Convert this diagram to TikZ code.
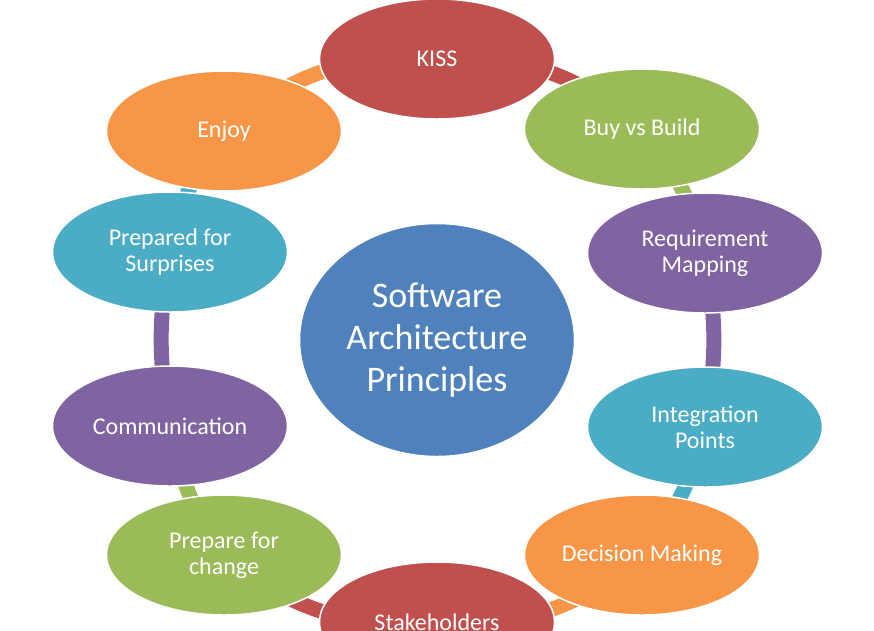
\documentclass[tikz,border=0pt]{standalone}
\usepackage{fontspec}
\setmainfont{Carlito}
\usetikzlibrary{shapes.geometric,backgrounds}
\definecolor{offred}{HTML}{C0504D}
\definecolor{offgreen}{HTML}{9BBB59}
\definecolor{offpurple}{HTML}{8064A2}
\definecolor{offaqua}{HTML}{4BACC6}
\definecolor{offorange}{HTML}{F79646}
\definecolor{offblue}{HTML}{4F81BD}
\tikzset{
  principle/.style={ellipse, draw=white, line width=1.5pt, fill=#1, text=white,
    minimum width=235pt, minimum height=120pt, inner sep=0pt, align=center,
    font=\fontsize{24}{26}\selectfont},
  ringband/.style={draw=#1, line width=15pt}
}
\begin{document}
\begin{tikzpicture}[x=1pt, y=1pt]
    \useasboundingbox (0,0) rectangle (874,-630);
    \clip (0,0) rectangle (874,-630);
    % centre
    \node[ellipse, draw=white, line width=1.5pt, fill=offblue, text=white, minimum width=275pt,
      minimum height=233pt, inner sep=0pt, align=center, font=\fontsize{36}{42}\selectfont]
      (core) at (437,-340) {Software\\Architecture\\Principles};
    % ring of principles
    \node[principle=offred]    (kiss)     at (437,-59)  {KISS};
    \node[principle=offgreen]  (buy)      at (642,-129) {Buy vs Build};
    \node[principle=offpurple] (req)      at (705,-253) {Requirement\\Mapping};
    \node[principle=offaqua]   (integ)    at (705,-427) {Integration\\Points};
    \node[principle=offorange] (decision) at (642,-555) {Decision Making};
    \node[principle=offred]    (stake)    at (437,-622) {Stakeholders};
    \node[principle=offgreen]  (change)   at (224,-555) {Prepare for\\change};
    \node[principle=offpurple] (comm)     at (170,-426) {Communication};
    \node[principle=offaqua]   (surprise) at (170,-252) {Prepared for\\Surprises};
    \node[principle=offorange] (enjoy)    at (224,-131) {Enjoy};
    % bands between neighbours, under the ellipses
    \begin{scope}[on background layer]
        \draw[ringband=offorange] (enjoy.center) to[bend left=22] (kiss.center);
        \draw[ringband=offred] (kiss.center) to[bend left=22] (buy.center);
        \draw[ringband=offgreen] (buy.center) to[bend left=12] (req.center);
        \draw[ringband=offpurple] (req.center) to[bend left=10] (integ.center);
        \draw[ringband=offaqua] (integ.center) to[bend left=12] (decision.center);
        \draw[ringband=offorange] (decision.center) to[bend left=22] (stake.center);
        \draw[ringband=offred] (stake.center) to[bend left=22] (change.center);
        \draw[ringband=offgreen] (change.center) to[bend left=12] (comm.center);
        \draw[ringband=offpurple] (comm.center) to[bend left=10] (surprise.center);
        \draw[ringband=offaqua] (surprise.center) to[bend left=12] (enjoy.center);
    \end{scope}
\end{tikzpicture}
\end{document}
